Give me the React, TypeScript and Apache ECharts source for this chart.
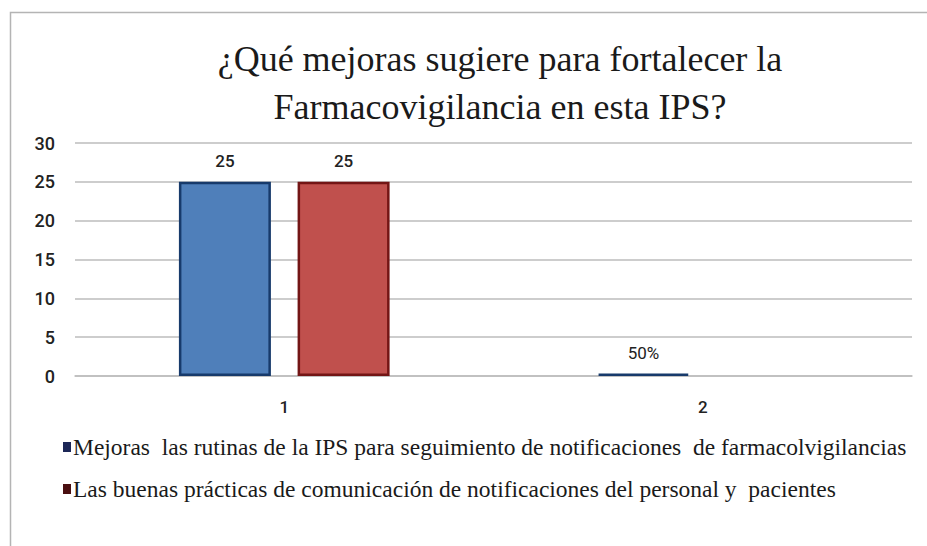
import React, { useEffect, useRef } from "react";
import * as echarts from "echarts";

const categories = ["1", "2"];
const seriesNames = [
  "Mejoras  las rutinas de la IPS para seguimiento de notificaciones  de farmacolvigilancias",
  "Las buenas prácticas de comunicación de notificaciones del personal y  pacientes",
];
const seriesAValues = [25, 0.3];
const seriesALabels = ["25", "50%"];
const seriesBValues = [25, 0];
const seriesBLabels = ["25", ""];
const yTicks = { min: 0, max: 30, interval: 5 };
const titleText = "¿Qué mejoras sugiere para fortalecer la\nFarmacovigilancia en esta IPS?";

export default function App() {
  const ref = useRef<HTMLDivElement>(null);
  useEffect(() => {
    document.body.style.margin = "0";
    const chart = echarts.init(ref.current!, null, { renderer: "svg" });
    const serif = "'Liberation Serif', serif";
    const sans = "Roboto, 'Liberation Sans', sans-serif";
    const mkData = (vals: number[], labels: string[], fill: string, edge: string) =>
      vals.map((v, i) => ({
        value: v,
        label: {
          show: labels[i] !== "",
          formatter: labels[i],
          fontWeight: labels[i].includes("%") ? 400 : 500,
        },
        itemStyle: { color: fill, borderColor: edge, borderWidth: v > 0 ? 2.5 : 0 },
      }));
    const labelStyle = {
      show: true,
      position: "top",
      distance: 12,
      fontFamily: sans,
      fontSize: 17,
      fontWeight: 500,
      color: "#222",
    };
    chart.setOption({
      animation: false,
      backgroundColor: "#ffffff",
      graphic: [
        {
          type: "rect",
          shape: { x: 10.5, y: 12.5, width: 940, height: 560 },
          style: { fill: "none", stroke: "#b4b4b4", lineWidth: 1.5 },
          silent: true,
        },
        {
          type: "text",
          x: 500,
          y: 35,
          style: {
            text: titleText,
            fontFamily: serif,
            fontSize: 36,
            lineHeight: 48,
            fill: "#1a1a1a",
            align: "center",
            verticalAlign: "top",
          },
        },
      ],
      legend: {
        orient: "vertical",
        left: 58,
        top: 430,
        itemGap: 18,
        itemWidth: 8,
        itemHeight: 10,
        icon: "rect",
        textStyle: { fontFamily: serif, fontSize: 23.5, color: "#1a1a1a", padding: [0, 0, 0, -3] },
        data: [
          { name: seriesNames[0], itemStyle: { color: "#1c2757" } },
          { name: seriesNames[1], itemStyle: { color: "#4a0f10" } },
        ],
      },
      grid: { left: 75, right: 15, top: 143, bottom: 170 },
      xAxis: {
        type: "category",
        data: categories,
        axisTick: { show: false },
        axisLine: { lineStyle: { color: "#bdbdbd", width: 1.5 } },
        axisLabel: { fontFamily: sans, fontSize: 17, fontWeight: 500, color: "#222", margin: 22 },
      },
      yAxis: {
        type: "value",
        min: yTicks.min,
        max: yTicks.max,
        interval: yTicks.interval,
        axisLine: { show: false },
        axisTick: { show: false },
        splitLine: { lineStyle: { color: "#bdbdbd", width: 1.5 } },
        axisLabel: { fontFamily: sans, fontSize: 18, fontWeight: 500, color: "#222", margin: 20 },
      },
      series: [
        {
          name: seriesNames[0],
          type: "bar",
          barWidth: 92,
          barGap: "29%",
          label: labelStyle,
          data: mkData(seriesAValues, seriesALabels, "#4f7fba", "#173a6b"),
        },
        {
          name: seriesNames[1],
          type: "bar",
          barWidth: 92,
          label: labelStyle,
          data: mkData(seriesBValues, seriesBLabels, "#c0504d", "#731515"),
        },
      ],
    });
    return () => chart.dispose();
  }, []);
  return <div ref={ref} style={{ width: 927, height: 546 }} />;
}
